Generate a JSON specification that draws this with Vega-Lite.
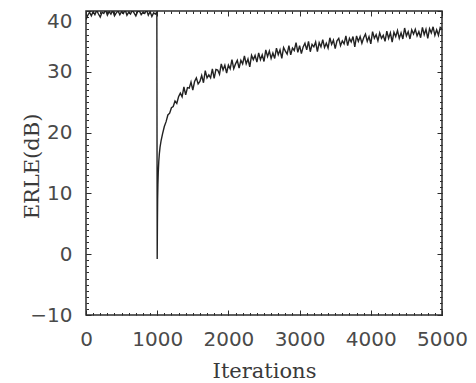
{
  "$schema": "https://vega.github.io/schema/vega-lite/v6.json",
  "width": 356,
  "height": 304,
  "autosize": "none",
  "padding": {"left": 86, "top": 11, "right": 34, "bottom": 68},
  "background": "white",
  "config": {
    "view": {"stroke": "#2b2b2b", "strokeWidth": 1.5},
    "axis": {"domain": false, "grid": false, "tickColor": "#2b2b2b", "tickWidth": 1}
  },
  "data": {
    "values": [
      {"it": 0, "erle": 38.6}, {"it": 25, "erle": 39.3}, {"it": 50, "erle": 39.8}, {"it": 75, "erle": 39.2},
      {"it": 100, "erle": 39.9}, {"it": 125, "erle": 39.4}, {"it": 150, "erle": 40.1}, {"it": 175, "erle": 39.5},
      {"it": 200, "erle": 39.0}, {"it": 225, "erle": 39.8}, {"it": 250, "erle": 39.6}, {"it": 275, "erle": 40.2},
      {"it": 300, "erle": 39.3}, {"it": 325, "erle": 39.9}, {"it": 350, "erle": 39.5}, {"it": 375, "erle": 40.1},
      {"it": 400, "erle": 39.2}, {"it": 425, "erle": 39.7}, {"it": 450, "erle": 40.0}, {"it": 475, "erle": 39.4},
      {"it": 500, "erle": 39.9}, {"it": 525, "erle": 39.6}, {"it": 550, "erle": 40.2}, {"it": 575, "erle": 39.3},
      {"it": 600, "erle": 39.8}, {"it": 625, "erle": 39.5}, {"it": 650, "erle": 40.1}, {"it": 675, "erle": 39.7},
      {"it": 700, "erle": 39.2}, {"it": 725, "erle": 39.9}, {"it": 750, "erle": 40.0}, {"it": 775, "erle": 39.4},
      {"it": 800, "erle": 39.8}, {"it": 825, "erle": 39.6}, {"it": 850, "erle": 40.2}, {"it": 875, "erle": 39.3},
      {"it": 900, "erle": 39.9}, {"it": 925, "erle": 39.1}, {"it": 950, "erle": 39.7}, {"it": 975, "erle": 39.5},
      {"it": 995, "erle": 39.8}, {"it": 1000, "erle": -0.8}, {"it": 1003, "erle": 5.0}, {"it": 1006, "erle": 9.0},
      {"it": 1010, "erle": 11.5}, {"it": 1015, "erle": 13.5}, {"it": 1022, "erle": 15.2}, {"it": 1030, "erle": 16.5},
      {"it": 1040, "erle": 17.6}, {"it": 1055, "erle": 18.7}, {"it": 1075, "erle": 19.8}, {"it": 1100, "erle": 21.0},
      {"it": 1125, "erle": 21.8}, {"it": 1150, "erle": 22.9}, {"it": 1175, "erle": 23.2}, {"it": 1200, "erle": 24.1},
      {"it": 1225, "erle": 24.3}, {"it": 1250, "erle": 25.2}, {"it": 1275, "erle": 24.8}, {"it": 1300, "erle": 25.9},
      {"it": 1325, "erle": 26.5}, {"it": 1350, "erle": 25.9}, {"it": 1375, "erle": 27.5}, {"it": 1400, "erle": 26.2},
      {"it": 1425, "erle": 27.4}, {"it": 1450, "erle": 27.3}, {"it": 1475, "erle": 28.3}, {"it": 1500, "erle": 27.0},
      {"it": 1525, "erle": 28.4}, {"it": 1550, "erle": 29.0}, {"it": 1575, "erle": 28.0}, {"it": 1600, "erle": 28.4},
      {"it": 1625, "erle": 29.4}, {"it": 1650, "erle": 28.2}, {"it": 1675, "erle": 30.2}, {"it": 1700, "erle": 29.0},
      {"it": 1725, "erle": 29.5}, {"it": 1750, "erle": 29.0}, {"it": 1775, "erle": 30.5}, {"it": 1800, "erle": 28.9},
      {"it": 1825, "erle": 30.4}, {"it": 1850, "erle": 30.3}, {"it": 1875, "erle": 29.6}, {"it": 1900, "erle": 31.3},
      {"it": 1925, "erle": 30.3}, {"it": 1950, "erle": 31.1}, {"it": 1975, "erle": 29.8}, {"it": 2000, "erle": 31.1},
      {"it": 2025, "erle": 30.5}, {"it": 2050, "erle": 32.0}, {"it": 2075, "erle": 30.5}, {"it": 2100, "erle": 31.3},
      {"it": 2125, "erle": 31.9}, {"it": 2150, "erle": 30.6}, {"it": 2175, "erle": 31.9}, {"it": 2200, "erle": 31.3},
      {"it": 2225, "erle": 32.6}, {"it": 2250, "erle": 31.3}, {"it": 2275, "erle": 32.1}, {"it": 2300, "erle": 30.8},
      {"it": 2325, "erle": 32.7}, {"it": 2350, "erle": 32.0}, {"it": 2375, "erle": 32.7}, {"it": 2400, "erle": 31.6},
      {"it": 2425, "erle": 33.1}, {"it": 2450, "erle": 32.0}, {"it": 2475, "erle": 32.8}, {"it": 2500, "erle": 31.7},
      {"it": 2525, "erle": 33.6}, {"it": 2550, "erle": 32.5}, {"it": 2575, "erle": 33.4}, {"it": 2600, "erle": 32.2},
      {"it": 2625, "erle": 33.1}, {"it": 2650, "erle": 32.2}, {"it": 2675, "erle": 33.9}, {"it": 2700, "erle": 32.8},
      {"it": 2725, "erle": 33.6}, {"it": 2750, "erle": 32.2}, {"it": 2775, "erle": 34.0}, {"it": 2800, "erle": 33.4},
      {"it": 2825, "erle": 32.9}, {"it": 2850, "erle": 34.3}, {"it": 2875, "erle": 32.8}, {"it": 2900, "erle": 33.9},
      {"it": 2925, "erle": 33.5}, {"it": 2950, "erle": 34.8}, {"it": 2975, "erle": 33.2}, {"it": 3000, "erle": 34.3},
      {"it": 3025, "erle": 33.0}, {"it": 3050, "erle": 34.1}, {"it": 3075, "erle": 34.7}, {"it": 3100, "erle": 33.6},
      {"it": 3125, "erle": 35.0}, {"it": 3150, "erle": 33.3}, {"it": 3175, "erle": 34.5}, {"it": 3200, "erle": 34.1},
      {"it": 3225, "erle": 34.9}, {"it": 3250, "erle": 33.3}, {"it": 3275, "erle": 34.8}, {"it": 3300, "erle": 34.1},
      {"it": 3325, "erle": 35.3}, {"it": 3350, "erle": 34.0}, {"it": 3375, "erle": 34.7}, {"it": 3400, "erle": 33.9},
      {"it": 3425, "erle": 35.6}, {"it": 3450, "erle": 34.5}, {"it": 3475, "erle": 35.2}, {"it": 3500, "erle": 33.8},
      {"it": 3525, "erle": 35.1}, {"it": 3550, "erle": 35.5}, {"it": 3575, "erle": 34.3}, {"it": 3600, "erle": 35.1},
      {"it": 3625, "erle": 34.6}, {"it": 3650, "erle": 35.9}, {"it": 3675, "erle": 34.3}, {"it": 3700, "erle": 35.5},
      {"it": 3725, "erle": 34.9}, {"it": 3750, "erle": 35.8}, {"it": 3775, "erle": 34.1}, {"it": 3800, "erle": 35.9},
      {"it": 3825, "erle": 35.0}, {"it": 3850, "erle": 35.8}, {"it": 3875, "erle": 34.7}, {"it": 3900, "erle": 35.6},
      {"it": 3925, "erle": 36.2}, {"it": 3950, "erle": 35.0}, {"it": 3975, "erle": 35.8}, {"it": 4000, "erle": 34.6},
      {"it": 4025, "erle": 36.6}, {"it": 4050, "erle": 35.5}, {"it": 4075, "erle": 36.1}, {"it": 4100, "erle": 35.1},
      {"it": 4125, "erle": 36.4}, {"it": 4150, "erle": 35.5}, {"it": 4175, "erle": 36.0}, {"it": 4200, "erle": 35.0},
      {"it": 4225, "erle": 36.7}, {"it": 4250, "erle": 35.5}, {"it": 4275, "erle": 36.4}, {"it": 4300, "erle": 34.9},
      {"it": 4325, "erle": 36.5}, {"it": 4350, "erle": 35.8}, {"it": 4375, "erle": 36.8}, {"it": 4400, "erle": 35.5},
      {"it": 4425, "erle": 36.4}, {"it": 4450, "erle": 35.4}, {"it": 4475, "erle": 37.2}, {"it": 4500, "erle": 35.9},
      {"it": 4525, "erle": 36.6}, {"it": 4550, "erle": 35.4}, {"it": 4575, "erle": 36.9}, {"it": 4600, "erle": 36.2},
      {"it": 4625, "erle": 37.0}, {"it": 4650, "erle": 35.9}, {"it": 4675, "erle": 36.6}, {"it": 4700, "erle": 35.6},
      {"it": 4725, "erle": 37.3}, {"it": 4750, "erle": 36.1}, {"it": 4775, "erle": 37.0}, {"it": 4800, "erle": 35.5},
      {"it": 4825, "erle": 37.1}, {"it": 4850, "erle": 36.4}, {"it": 4875, "erle": 37.4}, {"it": 4900, "erle": 36.0},
      {"it": 4925, "erle": 36.9}, {"it": 4950, "erle": 36.0}, {"it": 4975, "erle": 37.3}, {"it": 5000, "erle": 37.1}
    ]
  },
  "layer": [
    {
      "mark": {"type": "line", "color": "#222222", "strokeWidth": 1.4, "clip": true},
      "encoding": {
        "x": {
          "field": "it", "type": "quantitative",
          "scale": {"domain": [0, 5000], "nice": false, "zero": false},
          "axis": {
            "orient": "bottom",
            "values": [0, 1000, 2000, 3000, 4000, 5000],
            "format": "d", "labelOverlap": false, "labelFlush": false,
            "tickSize": -5,
            "labelFont": "DejaVu Sans", "labelFontSize": 20, "labelColor": "#4a4a4a",
            "labelPadding": 19, "labelBaseline": "top",
            "title": "Iterations",
            "titleFont": "DejaVu Serif", "titleFontSize": 21, "titleFontWeight": "normal", "titleColor": "#3a3a3a",
            "titleX": 178, "titleY": 62, "titleAlign": "center", "titleBaseline": "alphabetic"
          }
        },
        "y": {
          "field": "erle", "type": "quantitative",
          "scale": {"domain": [-10, 40], "nice": false, "zero": false},
          "axis": {
            "orient": "left",
            "values": [-10, 0, 10, 20, 30, 40],
            "format": "d", "labelOverlap": false,
            "tickSize": -5,
            "labelFont": "DejaVu Sans", "labelFontSize": 20, "labelColor": "#4a4a4a",
            "labelPadding": 19,
            "labelBaseline": {"condition": {"test": "datum.value == 40", "value": "top"}, "value": "middle"},
            "title": "ERLE(dB)",
            "titleFont": "DejaVu Serif", "titleFontSize": 21, "titleFontWeight": "normal", "titleColor": "#3a3a3a",
            "titleX": -48, "titleY": 155, "titleAngle": -90, "titleAlign": "center", "titleBaseline": "alphabetic"
          }
        }
      }
    },
    {
      "mark": {"type": "line", "opacity": 0},
      "encoding": {
        "x": {
          "field": "it", "type": "quantitative",
          "axis": {
            "orient": "bottom", "labels": false, "title": null, "tickSize": -2.5,
            "values": [0,100,200,300,400,500,600,700,800,900,1000,1100,1200,1300,1400,1500,1600,1700,1800,1900,2000,2100,2200,2300,2400,2500,2600,2700,2800,2900,3000,3100,3200,3300,3400,3500,3600,3700,3800,3900,4000,4100,4200,4300,4400,4500,4600,4700,4800,4900,5000]
          }
        },
        "y": {
          "field": "erle", "type": "quantitative",
          "axis": {
            "orient": "left", "labels": false, "title": null, "tickSize": -2.5,
            "values": [-10,-9,-8,-7,-6,-5,-4,-3,-2,-1,0,1,2,3,4,5,6,7,8,9,10,11,12,13,14,15,16,17,18,19,20,21,22,23,24,25,26,27,28,29,30,31,32,33,34,35,36,37,38,39,40]
          }
        }
      }
    },
    {
      "mark": {"type": "line", "opacity": 0},
      "encoding": {
        "x": {
          "field": "it", "type": "quantitative",
          "axis": {"orient": "top", "labels": false, "title": null, "tickSize": -5, "values": [0, 1000, 2000, 3000, 4000, 5000]}
        },
        "y": {
          "field": "erle", "type": "quantitative",
          "axis": {"orient": "right", "labels": false, "title": null, "tickSize": -5, "values": [-10, 0, 10, 20, 30, 40]}
        }
      }
    },
    {
      "mark": {"type": "line", "opacity": 0},
      "encoding": {
        "x": {
          "field": "it", "type": "quantitative",
          "axis": {
            "orient": "top", "labels": false, "title": null, "tickSize": -2.5,
            "values": [0,100,200,300,400,500,600,700,800,900,1000,1100,1200,1300,1400,1500,1600,1700,1800,1900,2000,2100,2200,2300,2400,2500,2600,2700,2800,2900,3000,3100,3200,3300,3400,3500,3600,3700,3800,3900,4000,4100,4200,4300,4400,4500,4600,4700,4800,4900,5000]
          }
        },
        "y": {
          "field": "erle", "type": "quantitative",
          "axis": {
            "orient": "right", "labels": false, "title": null, "tickSize": -2.5,
            "values": [-10,-9,-8,-7,-6,-5,-4,-3,-2,-1,0,1,2,3,4,5,6,7,8,9,10,11,12,13,14,15,16,17,18,19,20,21,22,23,24,25,26,27,28,29,30,31,32,33,34,35,36,37,38,39,40]
          }
        }
      }
    }
  ],
  "resolve": {"axis": {"x": "independent", "y": "independent"}}
}
